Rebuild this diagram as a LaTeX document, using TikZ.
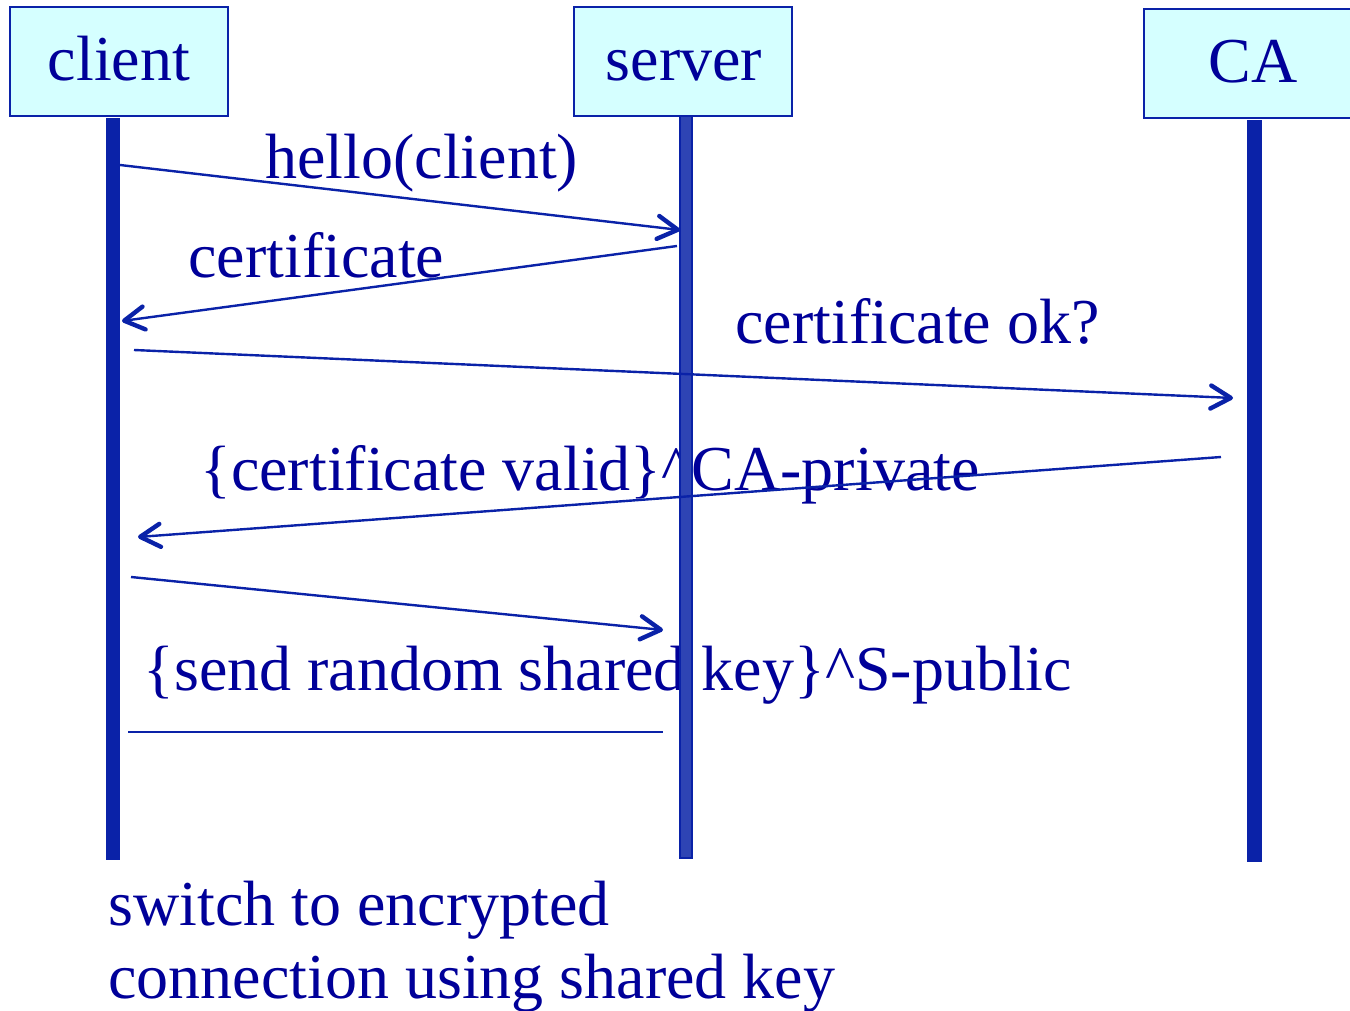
\documentclass[tikz,border=0pt]{standalone}
\usepackage{fontspec}
\setmainfont{Liberation Serif}
\usetikzlibrary{arrows.meta}
\definecolor{txt}{HTML}{000099}
\definecolor{ln}{HTML}{0A22A8}
\definecolor{boxfill}{HTML}{D5FFFF}
\definecolor{srv}{HTML}{2E44B4}
\begin{document}
\begin{tikzpicture}[x=0.5pt,y=-0.5pt,
  actor/.style={draw=ln, line width=1pt, fill=boxfill, minimum width=109pt, minimum height=54.5pt, inner sep=0pt},
  lbl/.style={text=txt, font=\fontsize{32}{36}\selectfont, inner sep=0pt, anchor=base west},
  msg/.style={draw=ln, line width=1.2pt, -{Straight Barb[length=10pt,width=11.5pt,line width=2.2pt,round]}},
  plainmsg/.style={draw=ln, line width=1.2pt},
  lifeline/.style={fill=ln},
  srvline/.style={fill=srv, draw=ln, line width=0.8pt}]
\useasboundingbox (0,0) rectangle (1350,1011);
% actor boxes
\node[actor] (client) at (119,61.5) {};
\node[actor] (server) at (683,61.5) {};
\node[actor] (ca) at (1253,63.5) {};
\node[lbl, anchor=base] (clientt) at (119,81) {client};
\node[lbl, anchor=base] (servert) at (684,81) {server};
\node[lbl, anchor=base] (cat) at (1253,83) {CA};
% labels
\node[lbl] (l1) at (265,178) {hello(client)};
\node[lbl] (l2) at (188,278) {certificate};
\node[lbl] (l3) at (735,343) {certificate ok?};
\node[lbl] (l4) at (200,490) {\{certificate valid\}\textasciicircum CA-private};
\node[lbl] (l5) at (143,690) {\{send random shared key\}\textasciicircum S-public};
\node[lbl] (l6) at (108,925) {switch to encrypted};
\node[lbl] (l7) at (108,998) {connection using shared key};
% lifelines
\fill[lifeline] (106,118) rectangle (120,860);
\filldraw[srvline] (680,116) rectangle (692,858);
\fill[lifeline] (1247,120) rectangle (1262,862);
% message endpoints
\coordinate (a1) at (120,165);  \coordinate (b1) at (680,230);
\coordinate (a2) at (677,246);  \coordinate (b2) at (122,321);
\coordinate (a3) at (134,350);  \coordinate (b3) at (1233,398);
\coordinate (a4) at (1221,457); \coordinate (b4) at (138,537);
\coordinate (a5) at (131,577);  \coordinate (b5) at (663,630);
\coordinate (a6) at (128,732);  \coordinate (b6) at (663,732);
\draw[msg] (a1) -- (b1);
\draw[msg] (a2) -- (b2);
\draw[msg] (a3) -- (b3);
\draw[msg] (a4) -- (b4);
\draw[msg] (a5) -- (b5);
\draw[plainmsg] (a6) -- (b6);
\end{tikzpicture}
\end{document}
